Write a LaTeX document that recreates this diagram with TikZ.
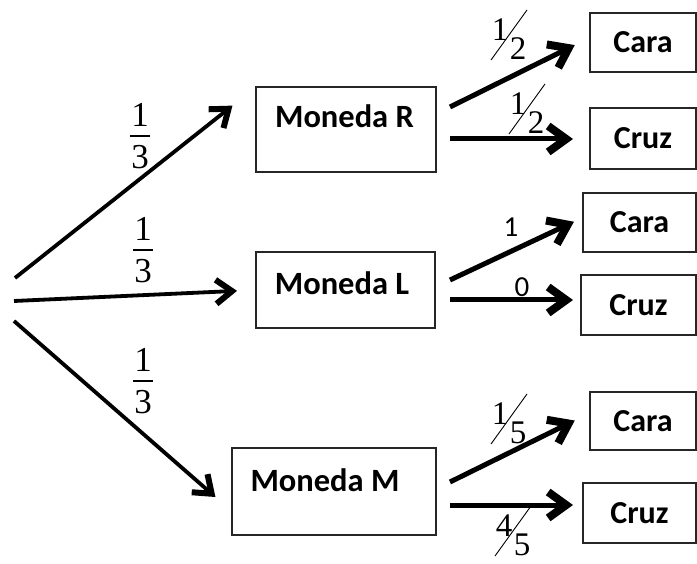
\documentclass[tikz,border=0pt]{standalone}
\usepackage{fontspec}
\setmainfont{Liberation Serif}
\newfontfamily\calibri{Carlito}
\usetikzlibrary{arrows.meta,calc}

% slashed fraction: name, x, y (middle of the slash), numerator, denominator
\newcommand\slfrac[5]{%
  \node[snum] (#1-n) at (#2-9,#3-5) {#4};
  \node[snum] (#1-d) at (#2+9,#3+14) {#5};
  \draw[slash] (#2-18,#3+25) -- (#2+18,#3-25);}
% stacked fraction: name, x, y (middle of the bar), numerator, denominator
\newcommand\stackfrac[5]{%
  \node[prob] (#1-n) at (#2,#3-21) {#4};
  \node[prob] (#1-d) at (#2,#3+21) {#5};
  \draw[fbar] (#2-10,#3) -- (#2+10,#3);}

\begin{document}
\begin{tikzpicture}[x=1pt,y=-1pt,
  box/.style={draw=black!85,line width=1.3pt,inner sep=0pt,outer sep=0pt},
  coin/.style={font=\calibri\bfseries\fontsize{32.5}{38}\selectfont,anchor=base,inner sep=0pt},
  face/.style={box,font=\calibri\bfseries\fontsize{32}{38}\selectfont},
  trunk/.style={line width=3.8pt,-{Straight Barb[length=16pt,width=24pt,line width=6pt]}},
  branch/.style={line width=5pt,-{Straight Barb[length=18pt,width=26pt,line width=8pt]}},
  prob/.style={font=\fontsize{35}{40}\selectfont,inner sep=0pt},
  fbar/.style={line width=1.1pt},
  snum/.style={font=\fontsize{33}{36}\selectfont,inner sep=0pt},
  slash/.style={line width=0.9pt},
  plain/.style={font=\calibri\fontsize{29}{34}\selectfont,inner sep=0pt}]
\useasboundingbox (0,0) rectangle (697,564);

% coin boxes
\node[box,minimum width=180pt,minimum height=85pt] (R) at (346,129.5) {};
\node[box,minimum width=179pt,minimum height=76pt] (L) at (345.5,290) {};
\node[box,minimum width=204pt,minimum height=87pt] (M) at (334,491.5) {};
\node[coin] (Rt) at (344.5,128) {Moneda R};
\node[coin] (Lt) at (342,295) {Moneda L};
\node[coin] (Mt) at (325,491) {Moneda M};

% outcome boxes
\node[face,minimum width=106pt,minimum height=59pt] (CaraR) at (643,42.5) {Cara};
\node[face,minimum width=106pt,minimum height=61pt] (CruzR) at (643,138.5) {Cruz};
\node[face,minimum width=113pt,minimum height=59pt] (CaraL) at (639.5,222.5) {Cara};
\node[face,minimum width=115pt,minimum height=60pt] (CruzL) at (638.5,305) {Cruz};
\node[face,minimum width=106pt,minimum height=58pt] (CaraM) at (643,421) {Cara};
\node[face,minimum width=113pt,minimum height=60pt] (CruzM) at (639.5,513) {Cruz};

% first stage
\coordinate (s1) at (15,278);
\coordinate (s2) at (14,301);
\coordinate (s3) at (14,321);
\draw[trunk,shorten >=30pt] (s1) -- (R.north west);
\draw[trunk,shorten >=19pt] (s2) -- (L.west);
\draw[trunk,shorten >=22pt] (s3) -- ([yshift=-20pt]M.west);
\stackfrac{p1}{140}{136}{1}{3}
\stackfrac{p2}{143}{250}{1}{3}
\stackfrac{p3}{143}{381}{1}{3}

% second stage
\coordinate (r1) at (450,107);
\coordinate (r2) at (450,139);
\coordinate (l1) at (450,280);
\coordinate (l2) at (450,300);
\coordinate (m1) at (450,482);
\coordinate (m2) at (450,505);
\draw[branch,shorten >=17pt] (r1) -- ([yshift=5pt]CaraR.west);
\draw[branch,shorten >=17pt] (r2) -- (r2 -| CruzR.west);
\draw[branch,shorten >=10pt] (l1) -- ([yshift=5pt]CaraL.west);
\draw[branch,shorten >=8pt] (l2) -- (l2 -| CruzL.west);
\draw[branch,shorten >=17pt] (m1) -- ([yshift=8pt]CaraM.west);
\draw[branch,shorten >=10pt] (m2) -- (m2 -| CruzM.west);

\slfrac{qa}{509}{35}{1}{2}
\slfrac{qb}{527}{109}{1}{2}
\node[plain] (one) at (511,227) {1};
\node[plain] (zero) at (522,287) {0};
\slfrac{qc}{509}{419}{1}{5}
\slfrac{qd}{513}{531}{4}{5}
\end{tikzpicture}
\end{document}
